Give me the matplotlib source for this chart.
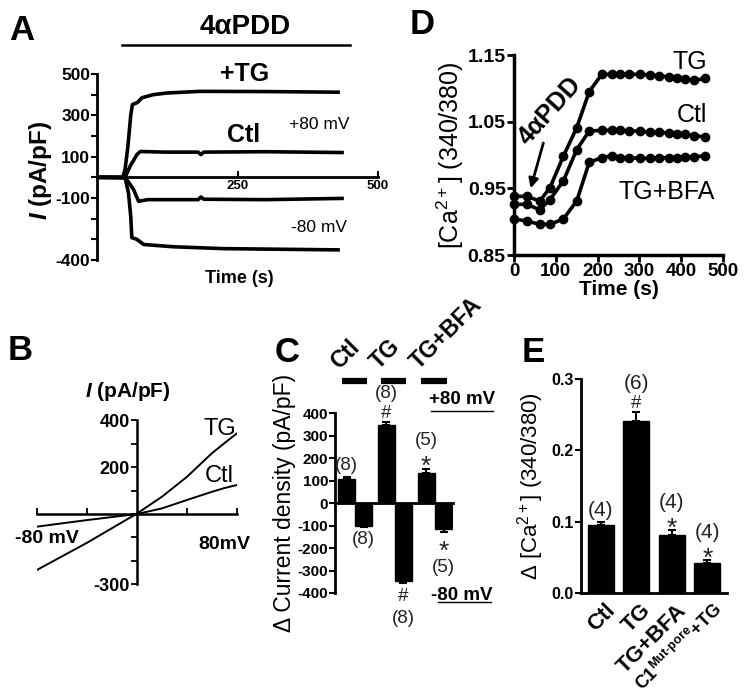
import numpy as np
import matplotlib
matplotlib.use("Agg")
import matplotlib.pyplot as plt

plt.rcParams['font.family'] = ['Liberation Sans', 'DejaVu Sans']
plt.rcParams['mathtext.fontset'] = 'custom'
plt.rcParams['mathtext.rm'] = 'Liberation Sans'
plt.rcParams['mathtext.it'] = 'Liberation Sans:italic:bold'
plt.rcParams['mathtext.bf'] = 'Liberation Sans:bold'

# ---- A: current at +/-80 mV over time
a_t_tg_pos = [0, 46, 50, 55, 60, 63, 72, 80, 100, 124, 183, 300, 429]
a_tg_pos = [0, 0, 40, 150, 300, 352, 362, 385, 400, 408, 416, 415, 412]
a_t_ctl_pos = [0, 50, 59, 71, 77, 120, 180, 185, 190, 300, 436]
a_ctl_pos = [0, 0, 54, 110, 125, 122, 122, 110, 122, 124, 120]
a_t_ctl_neg = [0, 50, 53, 65, 74, 90, 180, 185, 190, 300, 436]
a_ctl_neg = [0, 0, -11, -59, -116, -108, -108, -95, -106, -108, -102]
a_t_tg_neg = [0, 50, 56, 60, 62, 71, 83, 136, 225, 429]
a_tg_neg = [0, -3, -75, -188, -292, -300, -325, -336, -345, -351]

# ---- B: I-V ramps
b_volt = [-80, -40, 0, 20, 40, 60, 70, 80]
b_tg = [-239, -123, 2, 74, 159, 260, 303, 345]
b_ctl = [-54, -26, 0, 24, 60, 95, 111, 124]

# ---- C: delta current density
c_groups = ['Ctl', 'TG', 'TG+BFA']
c_pos = [11.5, 28.5, 51, 68, 91, 108.5]
c_vals = [108, -100, 345, -345, 135, -117]
c_err = [8, 6, 17, 10, 18, 12]
c_n = ['(8)', '(8)', '(8)', '(8)', '(5)', '(5)']
c_sig = ['', '', '#', '#', '*', '*']

# ---- D: Ca2+ ratio time course
d_t = [0, 30, 62, 86, 118, 150, 180, 210, 234, 254, 274, 302, 326, 346, 370, 390, 410, 430, 458]
d_tg = [0.938, 0.938, 0.931, 0.951, 0.998, 1.041, 1.095, 1.121, 1.121, 1.121, 1.121, 1.121,
        1.120, 1.119, 1.117, 1.116, 1.114, 1.112, 1.115]
d_ctl = [0.926, 0.926, 0.918, 0.933, 0.961, 1.008, 1.036, 1.037, 1.037, 1.037, 1.036, 1.036,
         1.034, 1.034, 1.033, 1.032, 1.031, 1.029, 1.027]
d_bfa = [0.904, 0.901, 0.896, 0.896, 0.904, 0.931, 0.989, 0.996, 0.999, 0.996, 0.996, 0.995,
         0.995, 0.996, 0.996, 0.996, 0.997, 0.997, 0.999]

# ---- E: delta Ca2+
e_labels = ['Ctl', 'TG', 'TG+BFA', r'C1$^{\mathbf{Mut}\text{-}\mathbf{pore}}$+TG']
e_vals = [0.096, 0.241, 0.082, 0.042]
e_err = [0.003, 0.013, 0.006, 0.004]
e_n = ['(4)', '(6)', '(4)', '(4)']
e_sig = ['', '#', '*', '*']

W, H = 748, 697
fig = plt.figure(figsize=(W / 100, H / 100), dpi=100)
PX = 0.72  # points per pixel at 100 dpi

# vertical centre of each glyph above the baseline, in em
glyph_mid = {'*': 0.58, '#': 0.35, '(': 0.26}
sig_size = {'*': 19, '#': 13.5}


def rect(x0, y_top, x1, y_bot):
    return [x0 / W, 1 - y_bot / H, (x1 - x0) / W, (y_bot - y_top) / H]


def clean(ax, lw=2):
    ax.spines['top'].set_visible(False)
    ax.spines['right'].set_visible(False)
    ax.spines['left'].set_linewidth(lw)
    ax.spines['bottom'].set_linewidth(lw)
    ax.set_facecolor('none')


def mark(ax, s, x, y0, sg, dist_px, fs):
    # put the glyph centre dist_px pixels away from the error bar end
    off = sg * dist_px * PX - glyph_mid[s[0]] * fs
    ax.annotate(s, (x, y0), xytext=(0, off), textcoords='offset points', ha='center',
                va='baseline', fontsize=fs, color='#222222', annotation_clip=False)


def label_bars(ax, xs, vals, errs, ns, sigs, n_fs):
    for x, v, e, n, s in zip(xs, vals, errs, ns, sigs):
        sg = 1 if v > 0 else -1
        y0 = v + sg * e
        d_sig, d_n = (10, 28) if sg > 0 else (12, 35)
        if s:
            mark(ax, s, x, y0, sg, d_sig, sig_size[s])
            mark(ax, n, x, y0, sg, d_n, n_fs)
        else:
            mark(ax, n, x, y0, sg, 12, n_fs)


# ================= A =================
axA = fig.add_axes(rect(97, 74, 378, 260))
clean(axA)
axA.spines['bottom'].set_position(('data', 0))
for t, v in [(a_t_tg_pos, a_tg_pos), (a_t_ctl_pos, a_ctl_pos),
             (a_t_ctl_neg, a_ctl_neg), (a_t_tg_neg, a_tg_neg)]:
    axA.plot(t, v, color='k', lw=2.6, solid_joinstyle='round')
axA.set_xlim(0, 500)
axA.set_ylim(-400, 500)
yt = list(range(-400, 501, 100))
axA.set_yticks(yt)
axA.set_yticklabels([str(v) if v in (500, 300, 100, -100, -400) else '' for v in yt],
                    fontsize=12.5, fontweight='bold')
axA.tick_params(axis='y', direction='out', length=4, width=1.5, pad=1)
axA.set_xticks([250, 500])
axA.set_xticklabels(['250', '500'], fontsize=9.5, fontweight='bold')
axA.tick_params(axis='x', direction='in', length=4, width=1.5, pad=2)
axA.plot([45, 450], [1.156, 1.156], color='k', lw=1.8,
         transform=axA.get_xaxis_transform(), clip_on=False)
axA.text(263, 1.255, '4αPDD', transform=axA.get_xaxis_transform(), fontsize=20,
         fontweight='bold', ha='center', va='center')
axA.text(263, 500, '+TG', fontsize=18, fontweight='bold', ha='center', va='center')
axA.text(260, 206, 'Ctl', fontsize=18, fontweight='bold', ha='center', va='center')
axA.text(395, 254, '+80 mV', fontsize=12.5, ha='center', va='center')
axA.text(395, -244, '-80 mV', fontsize=12.5, ha='center', va='center')
axA.text(254, -0.1, 'Time (s)', transform=axA.get_xaxis_transform(), fontsize=13,
         fontweight='bold', ha='center', va='center')
fig.text(40 / W, 1 - 170 / H, r'$\it{I}$ (pA/pF)', rotation=90, fontsize=17.5,
         fontweight='bold', ha='center', va='center')

# ================= B =================
axB = fig.add_axes(rect(37, 420.4, 237, 584.2))
clean(axB, lw=1.8)
axB.spines['bottom'].set_position(('data', 0))
axB.spines['left'].set_position(('data', 0))
axB.plot(b_volt, b_tg, color='k', lw=1.4)
axB.plot(b_volt, b_ctl, color='k', lw=1.4)
axB.set_xlim(-80, 80)
axB.set_ylim(-300, 400)
ytb = list(range(-300, 401, 100))
axB.set_yticks(ytb)
axB.set_yticklabels([str(v) if v in (400, 200, -300) else '' for v in ytb],
                    fontsize=13, fontweight='bold')
axB.tick_params(axis='y', direction='out', length=4, width=1.3, pad=1)
axB.set_xticks([-80, -40, 40, 80])
axB.set_xticklabels([])
axB.tick_params(axis='x', direction='in', length=4, width=1.3)
axB.text(66, 362, 'TG', fontsize=17, ha='center', va='center')
axB.text(66, 163, 'Ctl', fontsize=17, ha='center', va='center')
axB.text(-72, -103, '-80 mV', fontsize=14, fontweight='bold', ha='center', va='center')
axB.text(70, -132, '80mV', fontsize=14, fontweight='bold', ha='center', va='center')
fig.text(128 / W, 1 - 391 / H, r'$\it{I}$ (pA/pF)', fontsize=15, fontweight='bold',
         ha='center', va='center')

# ================= C =================
axC = fig.add_axes(rect(335, 413, 453, 593))
clean(axC, lw=2)
axC.spines['bottom'].set_position(('data', 0))
lo = [0 if v > 0 else e for v, e in zip(c_vals, c_err)]
hi = [e if v > 0 else 0 for v, e in zip(c_vals, c_err)]
axC.bar(c_pos, c_vals, width=17, color='k', edgecolor='k',
        yerr=[lo, hi], ecolor='k', capsize=3, error_kw=dict(elinewidth=1.5, capthick=1.5))
axC.set_xlim(0, 118)
axC.set_ylim(-400, 400)
axC.set_yticks(range(-400, 401, 100))
axC.set_yticklabels([str(v) for v in range(-400, 401, 100)], fontsize=11, fontweight='bold')
axC.tick_params(axis='y', direction='out', length=4, width=1.5, pad=1)
axC.set_xticks([])
axC.set_ylabel('Δ Current density (pA/pF)', fontsize=16.5, labelpad=1)
label_bars(axC, c_pos, c_vals, c_err, c_n, c_sig, 13.5)
# group bars and labels above the panel
for i, g in enumerate(c_groups):
    xa = c_pos[2 * i] - 5
    xb = c_pos[2 * i + 1] + 3
    axC.plot([xa, xb], [1.178, 1.178], color='k', lw=4.5,
             transform=axC.get_xaxis_transform(), clip_on=False, solid_capstyle='butt')
    axC.text(xa + 1, 1.22, g, transform=axC.get_xaxis_transform(), rotation=45,
             rotation_mode='anchor', ha='left', va='bottom', fontsize=16.5, fontweight='bold')
axC.text(127, 462, '+80 mV', fontsize=13.5, fontweight='bold', ha='center', va='center')
axC.plot([96, 158], [410, 410], color='k', lw=1, clip_on=False)
axC.text(127, -413, '-80 mV', fontsize=13.5, fontweight='bold', ha='center', va='center')
axC.plot([103, 156], [-442, -442], color='k', lw=1, clip_on=False)

# ================= D =================
axD = fig.add_axes(rect(514, 55, 723, 255))
clean(axD, lw=2.5)
for v in (d_tg, d_ctl, d_bfa):
    axD.plot(d_t, v, 'o-', color='k', lw=2.6, ms=6, clip_on=False)
axD.set_xlim(0, 500)
axD.set_ylim(0.85, 1.15)
axD.set_xticks(range(0, 501, 100))
axD.set_xticklabels([str(v) for v in range(0, 501, 100)], fontsize=13.5, fontweight='bold')
axD.set_yticks([0.85, 0.95, 1.05, 1.15])
axD.set_yticklabels(['0.85', '0.95', '1.05', '1.15'], fontsize=14, fontweight='bold')
axD.tick_params(direction='out', length=5, width=2, pad=1)
axD.set_xlabel('Time (s)', fontsize=15, fontweight='bold', labelpad=0)
axD.set_ylabel(r'[Ca$^{2+}$] (340/380)', fontsize=18, labelpad=1)
axD.text(421, 1.1395, 'TG', fontsize=18, ha='center', va='center')
axD.text(426, 1.06, 'Ctl', fontsize=18, ha='center', va='center')
axD.text(366, 0.9445, 'TG+BFA', fontsize=18, ha='center', va='center')
axD.text(86, 1.066, '4αPDD', fontsize=18, fontweight='bold', rotation=48,
         ha='center', va='center')
axD.annotate('', xy=(38, 0.946), xytext=(72, 1.022),
             arrowprops=dict(arrowstyle='-|>', color='k', lw=2, mutation_scale=14))

# ================= E =================
axE = fig.add_axes(rect(581, 379, 727, 593))
clean(axE, lw=2)
e_pos = np.arange(len(e_vals)) + 0.55
axE.bar(e_pos, e_vals, width=0.73, color='k', edgecolor='k',
        yerr=[[0] * len(e_err), e_err], ecolor='k', capsize=3,
        error_kw=dict(elinewidth=1.5, capthick=1.5))
axE.set_xlim(0, 4.1)
axE.set_ylim(0, 0.3)
axE.set_yticks([0, 0.1, 0.2, 0.3])
axE.set_yticklabels(['0.0', '0.1', '0.2', '0.3'], fontsize=11.5, fontweight='bold')
axE.set_xticks(e_pos + 0.12)
axE.set_xticklabels(e_labels, rotation=45, ha='right', va='top', rotation_mode='anchor',
                    fontsize=16, fontweight='bold')
axE.get_xticklabels()[-1].set_fontsize(13)
axE.tick_params(axis='y', direction='out', length=4, width=1.5, pad=1)
axE.tick_params(axis='x', length=0, pad=5)
axE.set_ylabel(r'Δ [Ca$^{2+}$] (340/380)', fontsize=16, labelpad=4)
label_bars(axE, e_pos, e_vals, e_err, e_n, e_sig, 15)

# panel letters
for letter, x, y in [('A', 22, 30), ('B', 20, 350), ('C', 287, 352), ('D', 422, 25), ('E', 533, 352)]:
    fig.text(x / W, 1 - y / H, letter, fontsize=25, fontweight='bold', ha='center', va='center')

fig.savefig('out.png', dpi=100)
